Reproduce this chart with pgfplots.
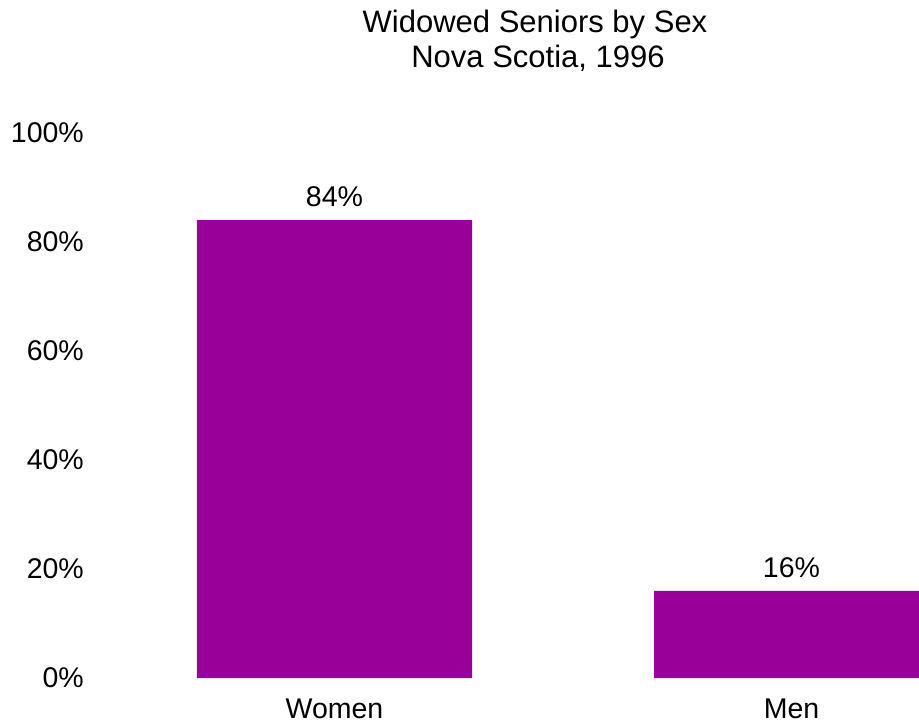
\documentclass[border=0pt]{standalone}
\usepackage{fontspec}
\setmainfont{Liberation Sans}
\usepackage{pgfplots}
\pgfplotsset{compat=1.18}
\definecolor{barpurple}{HTML}{990099}
\begin{document}
\begin{tikzpicture}
\useasboundingbox (-106bp,-45bp) rectangle (813bp,678bp);
\begin{axis}[
  at={(0,0)}, anchor=south west,
  scale only axis,
  width=813bp, height=545bp,
  xmin=-0.5, xmax=1.279,
  ymin=0, ymax=100,
  /pgf/number format/assume math mode=true,
  axis line style={draw=none},
  tick style={draw=none},
  major tick length=0pt,
  xtick={0,1},
  xticklabels={Women,Men},
  ytick={0,20,40,60,80,100},
  yticklabels={0\%,20\%,40\%,60\%,80\%,100\%},
  y tick label style={font=\fontsize{28.5bp}{32bp}\selectfont, anchor=east, inner sep=0pt, xshift=-22bp},
  x tick label style={font=\fontsize{28.5bp}{32bp}\selectfont, anchor=north, inner sep=0pt, yshift=-21bp},
  ybar,
  bar width=275bp,
  nodes near coords={\pgfmathprintnumber{\pgfplotspointmeta}\%},
  every node near coord/.append style={font=\fontsize{28.5bp}{32bp}\selectfont, anchor=south, inner sep=0pt, yshift=13bp, text=black},
]
\addplot[fill=barpurple, draw=none] coordinates {(0,84) (1,16)};
\end{axis}
\node[anchor=base, inner sep=0pt, font=\fontsize{31bp}{35bp}\selectfont] at (429bp,645bp) {Widowed Seniors by Sex};
\node[anchor=base, inner sep=0pt, font=\fontsize{31bp}{35bp}\selectfont] at (432bp,610bp) {Nova Scotia, 1996};
\end{tikzpicture}
\end{document}
